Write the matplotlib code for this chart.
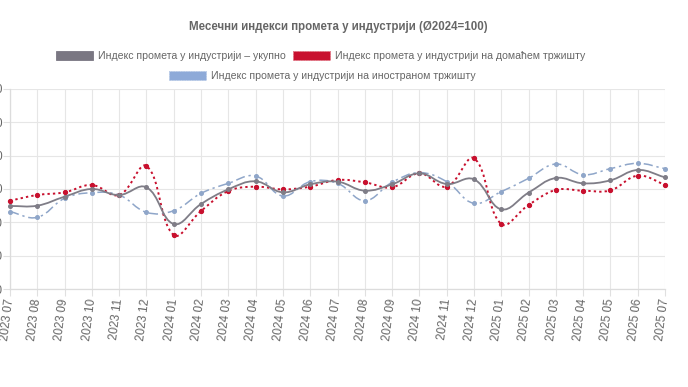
import numpy as np
import matplotlib
matplotlib.use('Agg')
import matplotlib.pyplot as plt
from matplotlib.path import Path
from matplotlib.patches import PathPatch, Patch

months = ['2023 07', '2023 08', '2023 09', '2023 10', '2023 11', '2023 12',
          '2024 01', '2024 02', '2024 03', '2024 04', '2024 05', '2024 06',
          '2024 07', '2024 08', '2024 09', '2024 10', '2024 11', '2024 12',
          '2025 01', '2025 02', '2025 03', '2025 04', '2025 05', '2025 06',
          '2025 07']
total = [94.9, 95.0, 97.7, 100.0, 98.2, 100.5, 89.5, 95.5, 99.9, 102.3, 99.0, 101.4,
         102.2, 99.5, 101.4, 104.7, 101.5, 102.9, 93.9, 98.9, 103.3, 101.7, 102.6, 105.7,
         103.5]
domestic = [96.5, 98.2, 99.0, 101.2, 98.2, 106.9, 86.2, 93.4, 99.4, 100.7, 99.9, 100.7,
            102.7, 102.0, 100.5, 104.7, 100.7, 109.2, 89.5, 95.2, 99.7, 99.5, 99.6, 104.0,
            101.3]
foreign = [93.2, 91.5, 97.2, 98.9, 98.2, 93.0, 93.5, 98.7, 101.7, 103.9, 97.9, 102.2,
           101.7, 96.5, 102.0, 104.9, 102.2, 95.7, 99.2, 103.2, 107.5, 104.3, 106.1, 107.7,
           106.1]
series_names = ['Индекс промета у индустрији – укупно',
                'Индекс промета у индустрији на домаћем тржишту',
                'Индекс промета у индустрији на иностраном тржишту']
title = 'Месечни индекси промета у индустрији (Ø2024=100)'
yticks = [70, 80, 90, 100, 110, 120, 130]

W, H = 688, 387
fig = plt.figure(figsize=(W / 100, H / 100), dpi=100)
fig.patch.set_facecolor('white')
plt.rcParams['font.family'] = ['Liberation Sans', 'DejaVu Sans']

left, right, top, bottom = 10, 665, 89, 289
ax = fig.add_axes([left / W, 1 - bottom / H, (right - left) / W, (bottom - top) / H])
x = np.arange(len(months))
ax.set_xlim(0, len(months) - 1)
ax.set_ylim(yticks[0], yticks[-1])
ax.set_xticks(x)
ax.set_xticklabels(months, rotation=83, ha='right', va='center', rotation_mode='anchor',
                   fontsize=8.4, color='#666666')
ax.set_yticks(yticks)
ax.set_yticklabels([str(v) for v in yticks], fontsize=8.4, color='#666666')
ax.tick_params(axis='x', length=5, color='#e0e0e0', pad=2)
ax.tick_params(axis='y', length=5, color='#e0e0e0', pad=0.5)
ax.grid(True, color='#e6e6e6', lw=0.8)
ax.set_axisbelow(True)
for s in ['top', 'right']:
    ax.spines[s].set_visible(False)
for s in ['left', 'bottom']:
    ax.spines[s].set_color('#dcdcdc')
    ax.spines[s].set_linewidth(0.9)


def spline_path(ax, xs, ys, tension=0.4):
    pts = ax.transData.transform(np.column_stack([xs, ys]))
    n = len(pts)
    cps = []
    for i in range(n):
        cur = pts[i]
        prev = pts[i - 1] if i > 0 else cur
        nxt = pts[i + 1] if i < n - 1 else cur
        d01 = np.hypot(*(cur - prev))
        d12 = np.hypot(*(nxt - cur))
        tot = d01 + d12
        s01 = d01 / tot if tot else 0
        s12 = d12 / tot if tot else 0
        cps.append((cur - tension * s01 * (nxt - prev), cur + tension * s12 * (nxt - prev)))
    verts = [pts[0]]
    codes = [Path.MOVETO]
    for i in range(n - 1):
        verts += [cps[i][1], cps[i + 1][0], pts[i + 1]]
        codes += [Path.CURVE4] * 3
    verts = ax.transData.inverted().transform(np.array(verts))
    return Path(verts, codes)


styles = [
    (total, '#7f7d87', 1.3, '-', 5, 2.6),
    (domestic, '#c8102e', 1.4, (0, (1.2, 1.6)), 4, 2.8),
    (foreign, '#8fa6c9', 1.1, (0, (6, 2.5, 1.5, 2.5)), 3, 2.6),
]
for vals, col, lw, ls, z, ms in styles:
    p = spline_path(ax, x, vals)
    ax.add_patch(PathPatch(p, fill=False, edgecolor=col, lw=lw, linestyle=ls, zorder=z,
                           capstyle='butt'))
    ax.plot(x, vals, 'o', ms=ms, color=col, zorder=z, clip_on=False)

fig.text(0.492, 1 - 27 / H, title, ha='center', va='center', fontsize=8.3,
         fontweight='bold', color='#666666')

h_total = Patch(facecolor='#7a7782', edgecolor='#7a7782', lw=0.6)
h_dom = Patch(facecolor='#c8102e', edgecolor='#e07080', linestyle=(0, (2, 1)), lw=0.6)
h_for = Patch(facecolor='#8eaad8', edgecolor='#b5c8e6', linestyle=(0, (2, 1)), lw=0.6)
leg_kw = dict(frameon=False, fontsize=7.6, handlelength=3.5, handleheight=1.0,
              handletextpad=0.45, columnspacing=0.7, labelcolor='#666666', borderpad=0,
              borderaxespad=0)
l1 = fig.legend([h_total, h_dom], series_names[:2], loc='center', ncol=2,
                bbox_to_anchor=(0.466, 1 - 56 / H), **leg_kw)
l2 = fig.legend([h_for], series_names[2:], loc='center', ncol=1,
                bbox_to_anchor=(0.468, 1 - 76 / H), **leg_kw)

fig.savefig('out.png', dpi=100)
